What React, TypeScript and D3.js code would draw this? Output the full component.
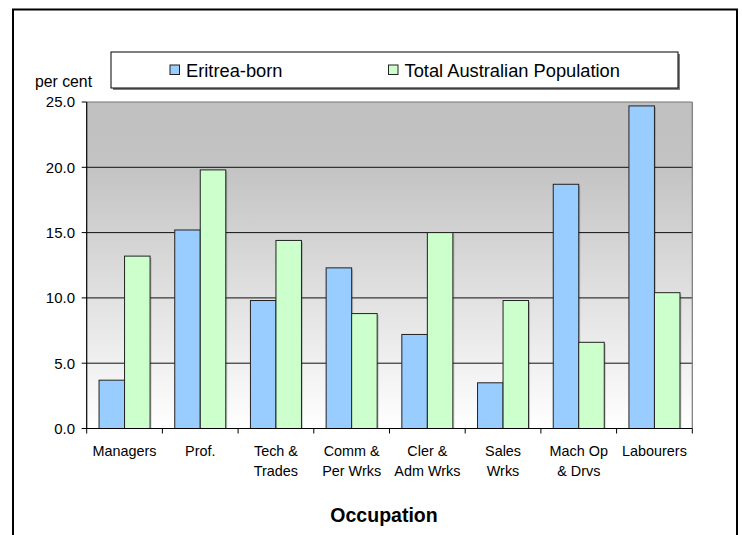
import React from 'react';
import * as d3 from 'd3';

const categories = [
  ['Managers'],
  ['Prof.'],
  ['Tech &', 'Trades'],
  ['Comm &', 'Per Wrks'],
  ['Cler &', 'Adm Wrks'],
  ['Sales', 'Wrks'],
  ['Mach Op', '& Drvs'],
  ['Labourers'],
];
const eritreaBorn = [3.7, 15.2, 9.8, 12.3, 7.2, 3.5, 18.7, 24.7];
const totalAustralia = [13.2, 19.8, 14.4, 8.8, 15.0, 9.8, 6.6, 10.4];
const seriesNames = ['Eritrea-born', 'Total Australian Population'];
const seriesColors = ['#99ccff', '#ccffcc'];
const yTicks = [0, 5, 10, 15, 20, 25];

const W = 742;
const H = 535;
const plot = { left: 86.7, right: 692.3, top: 102, bottom: 428.5 };
const FONT = '"Liberation Sans", Arial, sans-serif';

const App: React.FC = () => {
  const keys = categories.map(c => c.join(' '));
  const x = d3.scaleBand<string>()
    .domain(keys)
    .range([plot.left, plot.right])
    .paddingInner(0.326)
    .paddingOuter(0.163);
  const xs = d3.scaleBand<number>()
    .domain([0, 1])
    .range([0, x.bandwidth()]);
  const y = d3.scaleLinear().domain([0, 25]).range([plot.bottom, plot.top]);
  const step = x.step();
  const series = [eritreaBorn, totalAustralia];

  return (
    <svg width={W} height={H} style={{ position: 'absolute', left: 0, top: 0 }} fontFamily={FONT}>
      <defs>
        <linearGradient id="plotBg" x1="0" y1="0" x2="0" y2="1">
          <stop offset="0%" stopColor="#c0c0c0" />
          <stop offset="20%" stopColor="#c3c3c3" />
          <stop offset="100%" stopColor="#ffffff" />
        </linearGradient>
      </defs>
      <rect x={0} y={0} width={W} height={H} fill="#fff" />
      <rect x={13} y={9.5} width={724} height={560} fill="none" stroke="#000" strokeWidth={2} />

      {/* plot area */}
      <rect x={plot.left} y={plot.top} width={plot.right - plot.left} height={plot.bottom - plot.top} fill="url(#plotBg)" />
      {yTicks.filter(t => t > 0 && t < 25).map(t => (
        <line key={t} x1={plot.left} x2={plot.right} y1={y(t)} y2={y(t)} stroke="#111" strokeWidth={1} />
      ))}
      <line x1={plot.left} x2={plot.right} y1={plot.top} y2={plot.top} stroke="#777" strokeWidth={1.2} />
      <line x1={plot.right} x2={plot.right} y1={plot.top} y2={plot.bottom} stroke="#777" strokeWidth={1.2} />

      {/* bars */}
      {series.map((vals, si) => vals.map((v, i) => {
        const bx = (x(keys[i]) ?? 0) + (xs(si) ?? 0);
        const by = y(v);
        const bw = xs.bandwidth();
        const bh = plot.bottom - by;
        return (
          <g key={`${si}-${i}`}>
            <rect x={bx + 1.5} y={by + 1.5} width={bw} height={bh - 1.5} fill="#000" opacity={0.18} />
            <rect x={bx} y={by} width={bw} height={bh} fill={seriesColors[si]} stroke="#222" strokeWidth={1} />
          </g>
        );
      }))}

      {/* y axis */}
      <line x1={plot.left} x2={plot.left} y1={plot.top} y2={plot.bottom} stroke="#000" strokeWidth={1.2} />
      {yTicks.map(t => (
        <g key={t}>
          <line x1={plot.left - 5} x2={plot.left} y1={y(t)} y2={y(t)} stroke="#000" />
          <text x={75} y={y(t)} dy="0.36em" textAnchor="end" fontSize={15} fill="#000">{t.toFixed(1)}</text>
        </g>
      ))}
      <text x={63.5} y={87} textAnchor="middle" fontSize={15.8} fill="#000">per cent</text>

      {/* x axis */}
      <line x1={plot.left} x2={plot.right} y1={plot.bottom} y2={plot.bottom} stroke="#000" strokeWidth={1.2} />
      {d3.range(categories.length + 1).map(i => (
        <line key={i} x1={plot.left + i * step} x2={plot.left + i * step} y1={plot.bottom} y2={plot.bottom + 5} stroke="#000" />
      ))}
      {categories.map((lines, i) => (
        <text key={i} x={(x(keys[i]) ?? 0) + x.bandwidth() / 2} y={455.5} textAnchor="middle" fontSize={14.4} fill="#000">
          {lines.map((l, j) => (
            <tspan key={j} x={(x(keys[i]) ?? 0) + x.bandwidth() / 2} dy={j === 0 ? 0 : 20}>{l}</tspan>
          ))}
        </text>
      ))}
      <text x={384} y={522} textAnchor="middle" fontSize={19.5} fontWeight="bold" fill="#000">Occupation</text>

      {/* legend */}
      <rect x={113} y={54} width={567} height={36} fill="#808080" />
      <rect x={111} y={52} width={567} height={36} fill="#fff" stroke="#000" strokeWidth={1} />
      {seriesNames.map((name, i) => {
        const lx = i === 0 ? 170 : 388.5;
        return (
          <g key={name}>
            <rect x={lx} y={65} width={9.5} height={9.5} fill={seriesColors[i]} stroke="#222" strokeWidth={1} />
            <text x={lx + 16} y={77} fontSize={18.3} fill="#000">{name}</text>
          </g>
        );
      })}
    </svg>
  );
};

export default App;
